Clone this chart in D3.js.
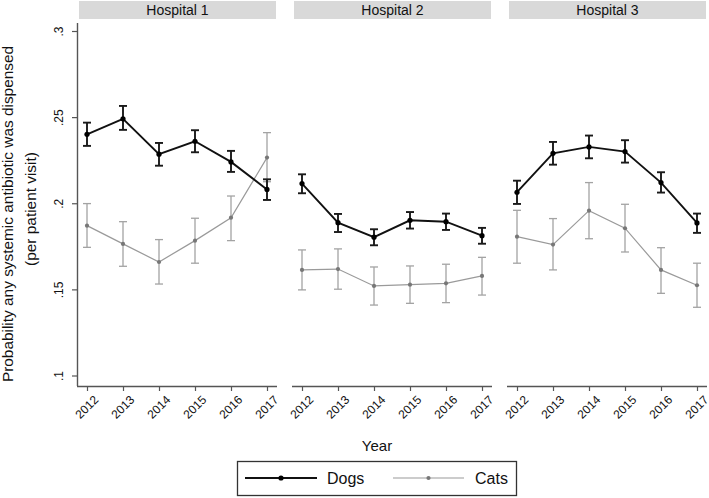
<!DOCTYPE html>
<html>
<head>
<meta charset="utf-8">
<script src="https://cdn.jsdelivr.net/npm/d3@7"></script>
<style>
  html, body { margin: 0; padding: 0; background: #fff; }
  svg { display: block; font-family: "Liberation Sans", Arial, sans-serif; }
</style>
</head>
<body>
<svg id="chart" width="709" height="498"></svg>
<script>
// ---- data ----
const years = [2012, 2013, 2014, 2015, 2016, 2017];
const hospitals = ["Hospital 1", "Hospital 2", "Hospital 3"];
const yTicks = [0.1, 0.15, 0.2, 0.25, 0.3];

const dogsH1 = [0.240, 0.249, 0.2285, 0.236, 0.224, 0.208];
const dogsH1Lo = [0.2333, 0.2426, 0.2218, 0.2296, 0.2182, 0.2019];
const dogsH1Hi = [0.2468, 0.2565, 0.2350, 0.2424, 0.2304, 0.2139];
const catsH1 = [0.187, 0.1764, 0.1659, 0.1783, 0.1916, 0.2265];
const catsH1Lo = [0.1744, 0.1634, 0.1531, 0.1652, 0.1783, 0.2125];
const catsH1Hi = [0.1998, 0.1893, 0.1789, 0.1913, 0.2042, 0.2410];

const dogsH2 = [0.2114, 0.1887, 0.1803, 0.1901, 0.1893, 0.1812];
const dogsH2Lo = [0.2058, 0.1833, 0.1756, 0.1853, 0.1845, 0.1765];
const dogsH2Hi = [0.2168, 0.1938, 0.1849, 0.1949, 0.1940, 0.1857];
const catsH2 = [0.1613, 0.1618, 0.1520, 0.1527, 0.1535, 0.1578];
const catsH2Lo = [0.1497, 0.1501, 0.1409, 0.1419, 0.1423, 0.1467];
const catsH2Hi = [0.1729, 0.1735, 0.1630, 0.1636, 0.1646, 0.1686];

const dogsH3 = [0.2064, 0.2290, 0.2327, 0.2300, 0.2120, 0.1886];
const dogsH3Lo = [0.1996, 0.2224, 0.2261, 0.2236, 0.2062, 0.1828];
const dogsH3Hi = [0.2131, 0.2356, 0.2393, 0.2366, 0.2180, 0.1940];
const catsH3 = [0.1806, 0.1760, 0.1957, 0.1855, 0.1613, 0.1524];
const catsH3Lo = [0.1652, 0.1613, 0.1794, 0.1717, 0.1477, 0.1396];
const catsH3Hi = [0.1959, 0.1911, 0.2120, 0.1994, 0.1742, 0.1652];

const seriesNames = ["Dogs", "Cats"];

// ---- build ----
const panels = [
  { name: hospitals[0], dogs: [dogsH1, dogsH1Lo, dogsH1Hi], cats: [catsH1, catsH1Lo, catsH1Hi] },
  { name: hospitals[1], dogs: [dogsH2, dogsH2Lo, dogsH2Hi], cats: [catsH2, catsH2Lo, catsH2Hi] },
  { name: hospitals[2], dogs: [dogsH3, dogsH3Lo, dogsH3Hi], cats: [catsH3, catsH3Lo, catsH3Hi] }
];

const svg = d3.select("#chart");
const plotTop = 23, plotBottom = 386;
const panelLefts = [77, 292, 507];
const panelW = 200;

const y = d3.scaleLinear().domain([0.1, 0.3]).range([375.5, 31]);

const styles = {
  Dogs: { line: "#111", lw: 1.9, bar: "#1a1a1a", bw: 1.9, dot: "#000", r: 2.6 },
  Cats: { line: "#9a9a9a", lw: 1.2, bar: "#a3a3a3", bw: 1.3, dot: "#777", r: 2.1 }
};

panels.forEach((p, i) => {
  const left = panelLefts[i];
  const x = d3.scalePoint().domain(years).range([left + 10, left + panelW - 10]);
  const g = svg.append("g");

  // strip
  g.append("rect").attr("x", left + 2).attr("y", 1).attr("width", panelW - 3).attr("height", 18)
    .attr("fill", "#d9d9d9");
  g.append("text").attr("x", left + 2 + (panelW - 3) / 2).attr("y", 15)
    .attr("text-anchor", "middle").attr("font-size", 14).attr("fill", "#111").text(p.name);

  // x axis
  const xa = g.append("g").attr("transform", `translate(0,${plotBottom})`)
    .call(d3.axisBottom(x).tickSize(5).tickSizeOuter(0).tickPadding(3));
  xa.select(".domain").attr("d", `M${left},0.5H${left + panelW}`).attr("stroke", "#555").attr("stroke-width", 1.4);
  xa.selectAll(".tick line").attr("stroke", "#555").attr("stroke-width", 1.2);
  xa.selectAll(".tick text")
    .attr("font-size", 12).attr("fill", "#111")
    .attr("font-family", "Liberation Sans, Arial, sans-serif")
    .attr("text-anchor", "end")
    .attr("dy", "0.35em")
    .attr("transform", "translate(3,6) rotate(-45)");

  // y axis only on first panel
  if (i === 0) {
    const ya = g.append("g").attr("transform", `translate(${left},0)`)
      .call(d3.axisLeft(y).tickValues(yTicks).tickSize(5).tickSizeOuter(0)
        .tickFormat(d => d3.format(".2~f")(d).replace(/^0/, "")));
    ya.select(".domain").attr("d", `M0.5,${plotTop}V${plotBottom}`).attr("stroke", "#555").attr("stroke-width", 1.4);
    ya.selectAll(".tick line").attr("stroke", "#555").attr("stroke-width", 1.2);
    ya.selectAll(".tick text")
      .attr("font-size", 12).attr("fill", "#111")
      .attr("font-family", "Liberation Sans, Arial, sans-serif")
      .attr("text-anchor", "middle")
      .attr("x", null).attr("dy", null)
      .attr("transform", "translate(-14,0) rotate(-90)");
  }

  // series: cats first, dogs on top
  [["Cats", p.cats], ["Dogs", p.dogs]].forEach(([nm, arr]) => {
    const st = styles[nm];
    const [val, lo, hi] = arr;
    const pts = years.map((yr, k) => ({ yr, v: val[k], lo: lo[k], hi: hi[k] }));
    const sg = g.append("g");
    // error bars
    const eb = sg.selectAll(".eb").data(pts).enter().append("g");
    eb.append("line").attr("x1", d => x(d.yr)).attr("x2", d => x(d.yr))
      .attr("y1", d => y(d.lo)).attr("y2", d => y(d.hi))
      .attr("stroke", st.bar).attr("stroke-width", st.bw);
    eb.append("line").attr("x1", d => x(d.yr) - 4).attr("x2", d => x(d.yr) + 4)
      .attr("y1", d => y(d.lo)).attr("y2", d => y(d.lo))
      .attr("stroke", st.bar).attr("stroke-width", st.bw);
    eb.append("line").attr("x1", d => x(d.yr) - 4).attr("x2", d => x(d.yr) + 4)
      .attr("y1", d => y(d.hi)).attr("y2", d => y(d.hi))
      .attr("stroke", st.bar).attr("stroke-width", st.bw);
    // line
    sg.append("path").datum(pts)
      .attr("d", d3.line().x(d => x(d.yr)).y(d => y(d.v)))
      .attr("fill", "none").attr("stroke", st.line).attr("stroke-width", st.lw);
    // dots
    sg.selectAll("circle").data(pts).enter().append("circle")
      .attr("cx", d => x(d.yr)).attr("cy", d => y(d.v)).attr("r", st.r).attr("fill", st.dot);
  });
});

// y title
const yt = svg.append("g").attr("fill", "#111").attr("font-size", 15.4);
yt.append("text").attr("text-anchor", "middle")
  .attr("transform", "translate(13,214) rotate(-90)")
  .text("Probability any systemic antibiotic was dispensed");
yt.append("text").attr("text-anchor", "middle")
  .attr("transform", "translate(36,209) rotate(-90)")
  .text("(per patient visit)");

// x title
svg.append("text").attr("x", 377).attr("y", 451).attr("text-anchor", "middle")
  .attr("font-size", 15).attr("fill", "#111").text("Year");

// legend
const lg = svg.append("g");
lg.append("rect").attr("x", 237.5).attr("y", 461.5).attr("width", 279).attr("height", 34)
  .attr("fill", "#fff").attr("stroke", "#333").attr("stroke-width", 1.3);
const legItems = [
  { name: seriesNames[0], x0: 245, x1: 317, tx: 327 },
  { name: seriesNames[1], x0: 393, x1: 464, tx: 475 }
];
legItems.forEach(it => {
  const st = styles[it.name];
  lg.append("line").attr("x1", it.x0).attr("x2", it.x1).attr("y1", 478).attr("y2", 478)
    .attr("stroke", st.line).attr("stroke-width", st.lw);
  lg.append("circle").attr("cx", (it.x0 + it.x1) / 2).attr("cy", 478).attr("r", st.r).attr("fill", st.dot);
  lg.append("text").attr("x", it.tx).attr("y", 484).attr("font-size", 16).attr("fill", "#111").text(it.name);
});
</script>
</body>
</html>
